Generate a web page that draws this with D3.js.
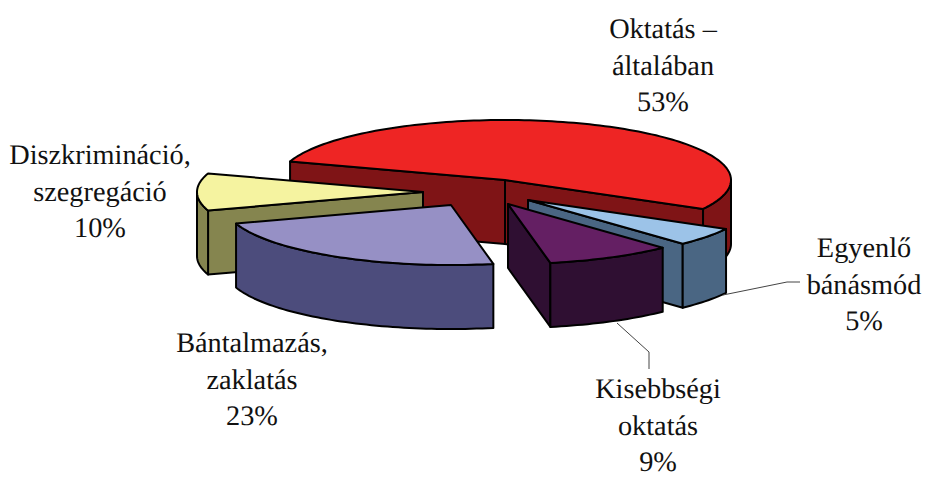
<!DOCTYPE html>
<html>
<head>
    <meta charset="utf-8">
    <title>Exploded 3D pie</title>
    <script src="https://d3js.org/d3.v7.min.js"></script>
    <style>
        html, body { margin: 0; padding: 0; background: #fff; overflow: hidden; }
        svg text { font-family: "Liberation Serif", "Times New Roman", serif; font-size: 28.3px; fill: #111; text-rendering: geometricPrecision; }
    </style>
</head>
<body>
    <div id="chart"></div>

    <script>
        // chart data
        var categories = [
            ["Oktatás –", "általában"],
            ["Egyenlő", "bánásmód"],
            ["Kisebbségi", "oktatás"],
            ["Bántalmazás,", "zaklatás"],
            ["Diszkrimináció,", "szegregáció"]
        ];
        var values = [53, 5, 9, 23, 10];

        // styling
        var topColors = ["#ee2524", "#9cc3e8", "#641f63", "#9690c5", "#f5f3a0"];
        var sideColors = ["#7f1416", "#4a6683", "#2f0f32", "#4c4c7c", "#85854f"];

        // how far every slice is pulled out, and its label placement
        var explodeX = [0, 23, 3, -54, -82];
        var explodeY = [0, 20, 24, 25, 12];
        var labelX = [663, 864, 658, 252, 100];
        var labelY = [38, 257, 398, 352, 164];

        var width = 926;
        var height = 477;
        var depth = 64;
        var lineStep = 36.5;
        var startDeg = -72;

        var svg = d3.select("#chart")
            .append("svg")
            .attr("width", width)
            .attr("height", height);

        // the tilted disc: unit circle -> ellipse on screen
        var xScale = d3.scaleLinear().domain([-1, 1]).range([505 - 226, 505 + 226]);
        var yScale = d3.scaleLinear().domain([-1, 1]).range([180 + 60, 180 - 60]);

        var pie = d3.pie()
            .sort(null)
            .value(function(d) { return d; })
            .startAngle(startDeg * Math.PI / 180)
            .endAngle((startDeg + 360) * Math.PI / 180);

        var arcs = pie(values);
        var line = d3.line();

        function pointAt(angle, i, drop) {
            return [
                xScale(Math.sin(angle)) + explodeX[i],
                yScale(Math.cos(angle)) + explodeY[i] + (drop || 0)
            ];
        }

        function arcPoints(a0, a1, i, drop) {
            var n = Math.max(2, Math.ceil(Math.abs(a1 - a0) * 40));
            return d3.range(n + 1).map(function(k) {
                return pointAt(a0 + (a1 - a0) * k / n, i, drop);
            });
        }

        // flat wall from the centre of the slice out to the rim
        function cutWall(angle, i) {
            var apex = [xScale(0) + explodeX[i], yScale(0) + explodeY[i]];
            var rim = pointAt(angle, i);
            return line([apex, rim, [rim[0], rim[1] + depth], [apex[0], apex[1] + depth]]) + "Z";
        }

        // part of the rim that faces the viewer
        function rimWalls(d, i) {
            var out = [];
            var half = Math.PI;
            [half / 2, half / 2 + 2 * half, half / 2 - 2 * half].forEach(function(low) {
                var a0 = Math.max(d.startAngle, low);
                var a1 = Math.min(d.endAngle, low + half);
                if (a1 > a0) {
                    var top = arcPoints(a0, a1, i, 0);
                    var bottom = arcPoints(a1, a0, i, depth);
                    out.push(line(top.concat(bottom)) + "Z");
                }
            });
            return out;
        }

        function topFace(d, i) {
            var apex = [xScale(0) + explodeX[i], yScale(0) + explodeY[i]];
            return line([apex].concat(arcPoints(d.startAngle, d.endAngle, i, 0))) + "Z";
        }

        // painter's order: back slice first
        var drawOrder = [0, 4, 3, 1, 2];

        var slices = svg.selectAll("g.slice")
            .data(drawOrder)
            .enter()
            .append("g")
            .attr("class", "slice")
            .attr("stroke", "#000")
            .attr("stroke-width", 2)
            .attr("stroke-linejoin", "round");

        slices.each(function(i) {
            var g = d3.select(this);
            var d = arcs[i];
            var walls = [];
            if (Math.sin(d.startAngle) < 0) walls.push(cutWall(d.startAngle, i));
            if (Math.sin(d.endAngle) > 0) walls.push(cutWall(d.endAngle, i));
            walls = walls.concat(rimWalls(d, i));

            g.selectAll("path.wall")
                .data(walls)
                .enter()
                .append("path")
                .attr("class", "wall")
                .attr("d", function(p) { return p; })
                .attr("fill", sideColors[i]);

            g.append("path")
                .attr("class", "top")
                .attr("d", topFace(d, i))
                .attr("fill", topColors[i]);
        });

        // leader lines of the two labels that sit away from their slice
        var leaders = [
            [[723, 295], [787, 282], [800, 282]],
            [[617, 323], [649, 352], [649, 369]]
        ];
        svg.selectAll("path.leader")
            .data(leaders)
            .enter()
            .append("path")
            .attr("class", "leader")
            .attr("d", function(d) { return line(d); })
            .attr("fill", "none")
            .attr("stroke", "#444")
            .attr("stroke-width", 1);

        // labels
        var labels = svg.selectAll("text.label")
            .data(categories)
            .enter()
            .append("text")
            .attr("class", "label")
            .attr("text-anchor", "middle")
            .attr("x", function(d, i) { return labelX[i]; })
            .attr("y", function(d, i) { return labelY[i]; });

        labels.each(function(d, i) {
            var t = d3.select(this);
            d.concat(values[i] + "%").forEach(function(s, k) {
                t.append("tspan")
                    .attr("x", labelX[i])
                    .attr("y", labelY[i] + k * lineStep)
                    .text(s);
            });
        });
    </script>
</body>
</html>
